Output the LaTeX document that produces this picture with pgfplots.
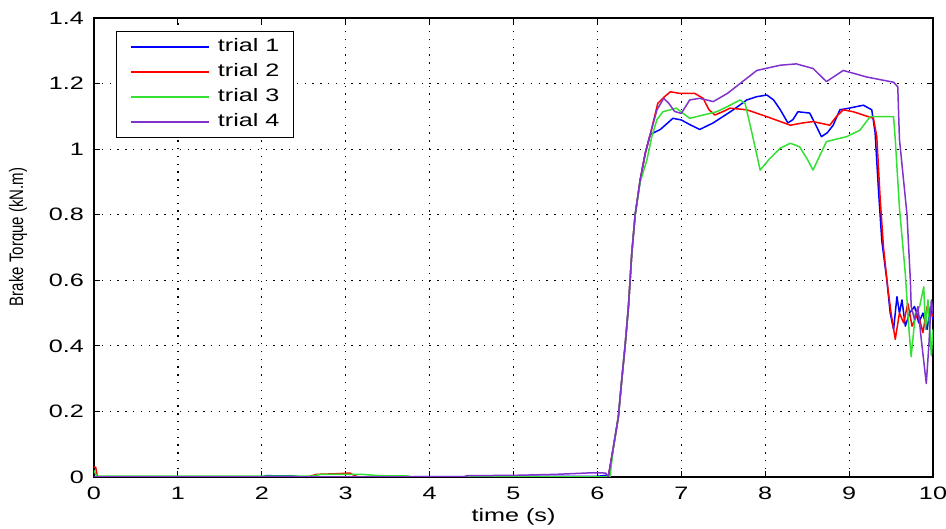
\documentclass[border=0pt]{standalone}
\usepackage{fontspec}
\setmainfont{Liberation Sans}[FakeStretch=1.4]
\newfontfamily\ylfont{Liberation Sans}
\usepackage{pgfplots}
\pgfplotsset{compat=1.18}
\definecolor{tblue}{rgb}{0,0,1}
\definecolor{tred}{rgb}{1,0,0}
\definecolor{tgreen}{rgb}{0.2,0.88,0.2}
\definecolor{tpurple}{rgb}{0.5,0.2,0.8}
\begin{document}
\begin{tikzpicture}
\useasboundingbox (-47pt,-26pt) rectangle (426pt,238.5pt);
\begin{axis}[
  at={(0,0)}, anchor=south west,
  scale only axis, width=419.5pt, height=229.5pt,
  xmin=0, xmax=10, ymin=0, ymax=1.4,
  xtick={0,1,2,3,4,5,6,7,8,9,10},
  ytick={0,0.2,0.4,0.6,0.8,1,1.2,1.4},
  /pgf/number format/assume math mode=true,
  tick label style={font=\fontsize{9}{10}\selectfont},
  yticklabel style={xshift=-1.5pt},
  xticklabel style={yshift=-1.5pt},
  tick align=inside,
  major tick length=3pt,
  tick style={black, line width=0.5pt},
  axis line style={black, line width=0.6pt},
  grid=major,
  grid style={black, line width=0.6pt, dash pattern=on 0.7pt off 3.2pt},
  xlabel={time (s)},
  xlabel style={at={(axis description cs:0.5,0)}, anchor=center, yshift=-20pt, font=\fontsize{9}{10}\selectfont},
  ylabel={\scalebox{1}[1.3]{\ylfont\fontsize{7.5}{9}\selectfont Brake Torque (kN.m)}},
  ylabel style={at={(axis description cs:-0.0906,0.523)}, anchor=center},
  legend style={at={(rel axis cs:0.0262,0.972)}, anchor=north west,
    draw=black, line width=0.5pt, fill=white,
    font=\fontsize{9}{10}\selectfont,
    inner xsep=7pt, inner ysep=3.25pt,
    row sep=3.5pt, column sep=4pt,
    nodes={inner sep=0pt, text height=7pt, text depth=2pt},
    cells={anchor=west}},
  legend image code/.code={\draw[#1, line width=0.7pt] (0pt,0pt) -- (39pt,0pt);},
  every axis plot/.append style={line width=0.75pt, line join=round},
]
% trial 1
\addplot[tblue] coordinates {
(0,0) (2.0,0) (2.05,0.004) (2.4,0.003) (2.45,0) (6.0,0.002) (6.1,0.005)
(6.13,0.0) (6.19,0.09) (6.25,0.184) (6.29,0.296) (6.33,0.40) (6.37,0.52) (6.41,0.683) (6.45,0.80) (6.51,0.906) (6.57,0.987) (6.63,1.045)
(6.75,1.06) (6.9,1.094) (7.0,1.089) (7.1,1.075) (7.22,1.06) (7.38,1.08) (7.5,1.10) (7.62,1.12) (7.78,1.15) (7.9,1.16) (8.02,1.165) (8.1,1.15) (8.18,1.12) (8.27,1.08) (8.33,1.09) (8.39,1.114) (8.53,1.11) (8.6,1.075) (8.67,1.038) (8.74,1.05) (8.81,1.073) (8.89,1.12) (9.0,1.125) (9.17,1.134) (9.27,1.12)
(9.31,1.05) (9.35,0.875) (9.39,0.72) (9.45,0.60) (9.49,0.50) (9.53,0.45) (9.57,0.55) (9.6,0.50) (9.63,0.54) (9.67,0.46) (9.72,0.50) (9.78,0.52) (9.83,0.47) (9.88,0.50) (9.93,0.45) (9.97,0.52) (10,0.48)
};
\addlegendentry{trial 1}
% trial 2
\addplot[tred] coordinates {
(0,0.03) (0.02,0.03) (0.04,0) (2.55,0) (2.65,0.008) (2.9,0.01) (3.05,0.012) (3.1,0.005) (3.15,0) (6.1,0)
(6.13,0.0) (6.19,0.09) (6.25,0.184) (6.29,0.296) (6.33,0.40) (6.37,0.52) (6.41,0.683) (6.45,0.80) (6.51,0.906) (6.57,0.987) (6.63,1.045)
(6.72,1.14) (6.8,1.16) (6.87,1.175) (6.98,1.17) (7.16,1.17) (7.26,1.155) (7.33,1.12) (7.40,1.104) (7.5,1.115) (7.58,1.125) (7.78,1.12) (8.02,1.099) (8.3,1.073) (8.45,1.08) (8.57,1.084) (8.77,1.073) (8.85,1.10) (8.93,1.12) (9.05,1.114) (9.29,1.094)
(9.33,1.038) (9.37,0.85) (9.41,0.70) (9.46,0.58) (9.5,0.50) (9.55,0.42) (9.6,0.50) (9.65,0.47) (9.7,0.53) (9.75,0.46) (9.82,0.50) (9.88,0.44) (9.93,0.52) (10,0.49)
};
\addlegendentry{trial 2}
% trial 3
\addplot[tgreen] coordinates {
(0,0.02) (0.03,0.003) (2.6,0.003) (2.7,0.008) (3.2,0.008) (3.4,0.004) (3.75,0.003) (3.8,0) (6.15,0)
(6.19,0.09) (6.25,0.184) (6.29,0.296) (6.33,0.40) (6.37,0.52) (6.41,0.683) (6.45,0.80) (6.51,0.9) (6.59,0.967)
(6.65,1.04) (6.71,1.09) (6.78,1.114) (6.94,1.125) (7.10,1.094) (7.26,1.104) (7.42,1.114) (7.55,1.13) (7.70,1.15) (7.76,1.14) (7.85,1.04) (7.94,0.936) (8.05,0.97) (8.18,1.003) (8.30,1.018) (8.41,1.007) (8.5,0.97) (8.57,0.936) (8.65,0.98) (8.73,1.023) (8.97,1.038) (9.13,1.058) (9.25,1.099) (9.53,1.099)
(9.55,1.03) (9.6,0.82) (9.67,0.62) (9.71,0.46) (9.74,0.367) (9.79,0.50) (9.84,0.52) (9.89,0.58) (9.91,0.45) (9.94,0.54) (9.98,0.37) (10,0.45)
};
\addlegendentry{trial 3}
% trial 4
\addplot[tpurple] coordinates {
(0,0) (4.4,0) (4.45,0.004) (5.0,0.005) (5.5,0.008) (5.95,0.013) (6.1,0.012)
(6.13,0.0) (6.19,0.09) (6.25,0.184) (6.29,0.296) (6.33,0.40) (6.37,0.52) (6.41,0.683) (6.45,0.80) (6.51,0.906) (6.57,0.987) (6.63,1.045)
(6.71,1.12) (6.79,1.155) (6.85,1.14) (6.92,1.115) (7.0,1.109) (7.1,1.15) (7.22,1.155) (7.38,1.145) (7.55,1.17) (7.70,1.20) (7.90,1.24) (8.18,1.256) (8.37,1.26) (8.57,1.246) (8.73,1.206) (8.93,1.24) (9.21,1.22) (9.53,1.204) (9.58,1.19)
(9.6,1.03) (9.69,0.80) (9.73,0.60) (9.74,0.52) (9.78,0.48) (9.82,0.52) (9.86,0.42) (9.92,0.285) (9.95,0.40) (9.98,0.54) (10,0.50)
};
\addlegendentry{trial 4}
\end{axis}
\end{tikzpicture}
\end{document}
